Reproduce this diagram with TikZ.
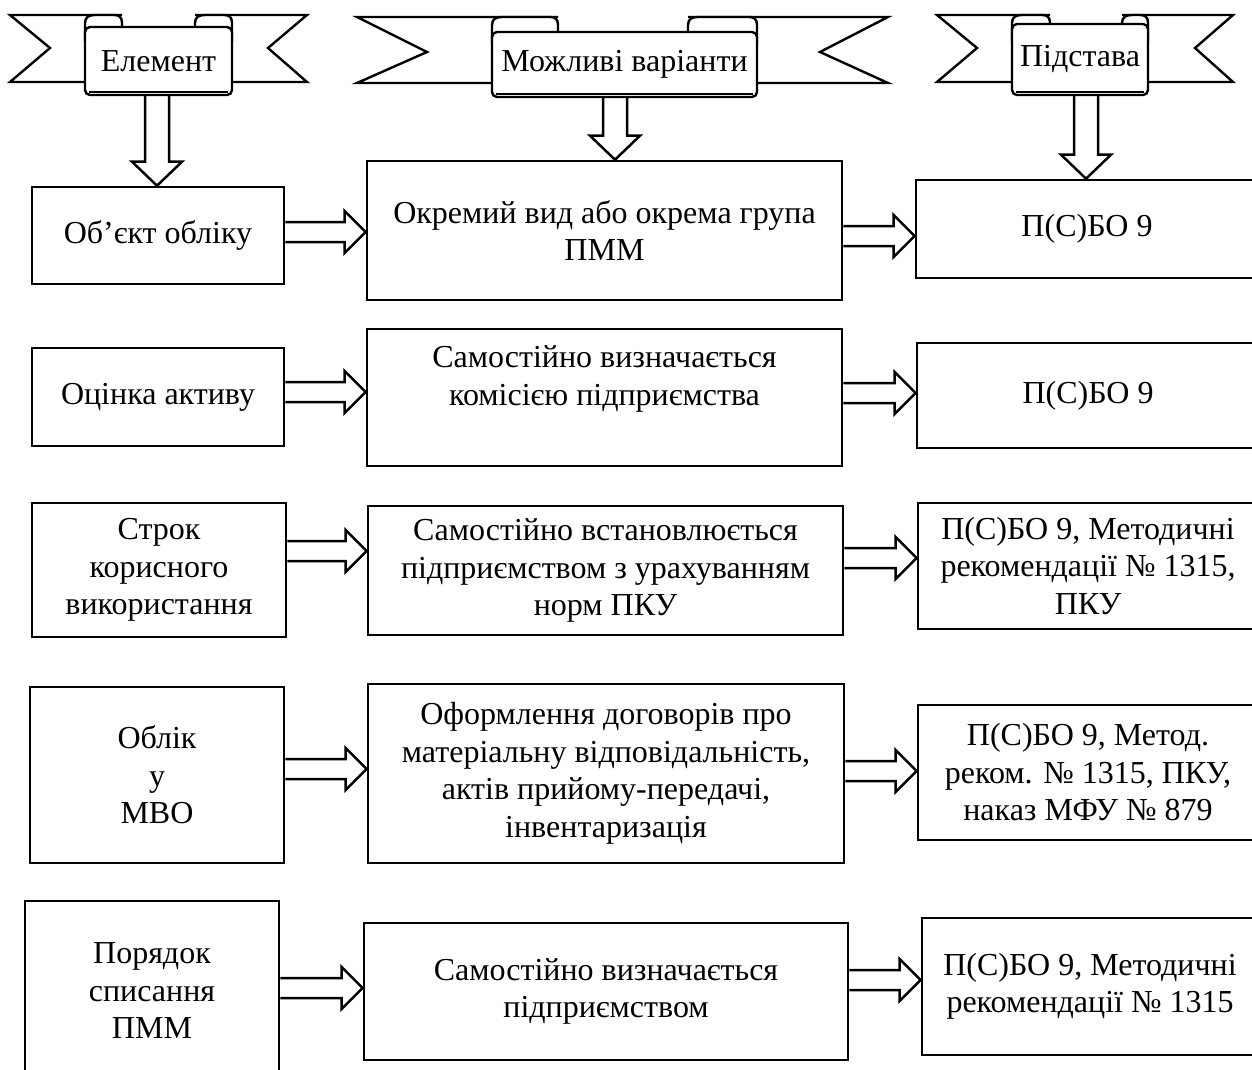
\documentclass[tikz,border=0pt]{standalone}
\usepackage{fontspec}
\setmainfont{Liberation Serif}
\usetikzlibrary{calc}
\tikzset{
 box/.style={draw, line width=2.6pt, align=center, inner sep=0pt, font=\fontsize{32}{37.5}\selectfont},
 txt/.style={align=center, inner sep=0pt, font=\fontsize{32}{37.5}\selectfont},
 scroll/.style={draw, fill=white, line width=2.4pt, rounded corners=5pt, inner sep=0pt, font=\fontsize{32}{36}\selectfont},
 ribbon/.style={draw, fill=white, line width=2.4pt, line join=miter},
 curl/.style={draw, fill=white, line width=2.4pt},
 blk/.style={draw, line width=2.5pt, line join=miter},
}
\newcommand\harr[3]{%
 \coordinate (hs) at (#1.east |- 0,#3);
 \coordinate (ht) at (#2.west |- 0,#3);
 \draw[blk] ($(hs)+(0,-10)$) -- ($(ht)+(-21,-10)$) -- ($(ht)+(-21,-21)$) -- (ht) -- ($(ht)+(-21,21)$) -- ($(ht)+(-21,10)$) -- ($(hs)+(0,10)$);}
\newcommand\varr[3]{%
 \coordinate (vs) at (#3,0 |- #1.south);
 \coordinate (vt) at (#3,0 |- #2.north);
 \draw[blk] ($(vs)+(-12,0)$) -- ($(vt)+(-12,-24)$) -- ($(vt)+(-25,-24)$) -- (vt) -- ($(vt)+(25,-24)$) -- ($(vt)+(12,-24)$) -- ($(vs)+(12,0)$);}
% curl: #1 left x, #2 right x, #3 top y
\newcommand\curlbox[3]{%
 \filldraw[curl] (#1,#3+27) -- (#1,#3+8) .. controls (#1,#3+2) and (#1+4,#3) .. (#1+10,#3) -- (#2-8,#3) .. controls (#2-3,#3) and (#2,#3+2) .. (#2,#3+8) -- (#2,#3+27);}
\begin{document}
\begin{tikzpicture}[x=1pt,y=-1pt]
\clip (0,0) rectangle (1252,1070);
\fill[white] (0,0) rectangle (1252,1070);

% ---- banner 1
\filldraw[ribbon] (122,15) -- (10,15) -- (50,48) -- (10,82) -- (85,82);
\filldraw[ribbon] (195,15) -- (307,15) -- (268,48) -- (307,82) -- (232,82);
\curlbox{85}{122}{15}
\curlbox{195}{232}{15}
\node[scroll, minimum width=147pt, minimum height=68pt] (b1) at (158.5,61) {Елемент};
\draw[line width=1.4pt] ([xshift=5pt,yshift=4pt]b1.south west) -- ([xshift=-5pt,yshift=4pt]b1.south east);

% ---- banner 2
\filldraw[ribbon] (558,17) -- (357,17) -- (427,52) -- (357,83) -- (492,83);
\filldraw[ribbon] (688,17) -- (888,17) -- (820,52) -- (888,83) -- (757,83);
\curlbox{492}{558}{17}
\curlbox{688}{757}{17}
\node[scroll, minimum width=265pt, minimum height=65pt] (b2) at (624.5,64.5) {Можливі варіанти};
\draw[line width=1.4pt] ([xshift=5pt,yshift=4pt]b2.south west) -- ([xshift=-5pt,yshift=4pt]b2.south east);

% ---- banner 3
\filldraw[ribbon] (1050,15) -- (937,15) -- (977,48) -- (937,82) -- (1012,82);
\filldraw[ribbon] (1122,15) -- (1233,15) -- (1195,48) -- (1233,82) -- (1148,82);
\curlbox{1012}{1050}{15}
\curlbox{1122}{1148}{15}
\node[scroll, minimum width=136pt, minimum height=71pt] (b3) at (1080,59.5) {Підстава};
\draw[line width=1.4pt] ([xshift=5pt,yshift=4pt]b3.south west) -- ([xshift=-5pt,yshift=4pt]b3.south east);

% ---- row 1
\node[box, minimum width=252pt, minimum height=97pt] (l1) at (158,235.5) {Об’єкт обліку};
\node[box, minimum width=475pt, minimum height=139pt] (m1) at (604.5,230.5) {Окремий вид або окрема група\\ПММ};
\node[box, minimum width=342pt, minimum height=98pt] (r1) at (1087,229) {П(С)БО 9};

% ---- row 2
\node[box, minimum width=252pt, minimum height=98pt] (l2) at (158,397) {Оцінка активу};
\node[box, minimum width=475pt, minimum height=137pt] (m2) at (604.5,397.5) {};
\node[txt] (m2t) at (604.5,379) {Самостійно визначається\\комісією підприємства};
\node[box, minimum width=342pt, minimum height=105pt] (r2) at (1088,395.5) {П(С)БО 9};

% ---- row 3
\node[box, minimum width=254pt, minimum height=134pt] (l3) at (159,570) {Строк\\корисного\\використання};
\node[box, minimum width=475pt, minimum height=129pt] (m3) at (605.5,570.5) {Самостійно встановлюється\\підприємством з урахуванням\\норм ПКУ};
\node[box, minimum width=340pt, minimum height=126pt] (r3) at (1088,566) {П(С)БО 9, Методичні\\рекомендації № 1315,\\ПКУ};

% ---- row 4
\node[box, minimum width=254pt, minimum height=176pt] (l4) at (157,775) {Облік\\у\\МВО};
\node[box, minimum width=476pt, minimum height=179pt] (m4) at (606,773.5) {Оформлення договорів про\\матеріальну відповідальність,\\актів прийому-передачі,\\інвентаризація};
\node[box, minimum width=340pt, minimum height=135pt] (r4) at (1088,772.5) {П(С)БО 9, Метод.\\реком. № 1315, ПКУ,\\наказ МФУ № 879};

% ---- row 5
\node[box, minimum width=254pt, minimum height=180pt] (l5) at (152,991) {Порядок\\списання\\ПММ};
\node[box, minimum width=484pt, minimum height=137pt] (m5) at (606,991.5) {Самостійно визначається\\підприємством};
\node[box, minimum width=336pt, minimum height=137pt] (r5) at (1090,986.5) {П(С)БО 9, Методичні\\рекомендації № 1315};

% ---- vertical arrows
\varr{b1}{l1}{157}
\varr{b2}{m1}{615}
\varr{b3}{r1}{1086}

% ---- horizontal arrows
\harr{l1}{m1}{232}
\harr{m1}{r1}{236}
\harr{l2}{m2}{392}
\harr{m2}{r2}{393}
\harr{l3}{m3}{551}
\harr{m3}{r3}{558}
\harr{l4}{m4}{769}
\harr{m4}{r4}{771}
\harr{l5}{m5}{988}
\harr{m5}{r5}{980}
\end{tikzpicture}
\end{document}
